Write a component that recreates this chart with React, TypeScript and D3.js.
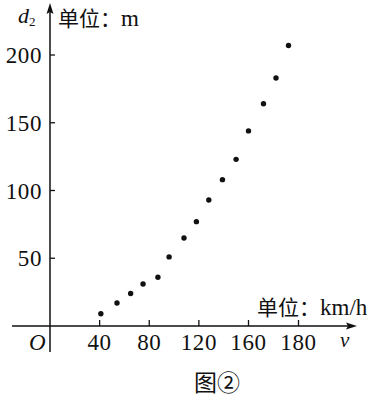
import React from "react";
import * as d3 from "d3";

const speeds = [41, 54, 65, 75, 87, 96, 108, 118, 128, 139, 150, 160, 166, 171, 176];
const distances = [9, 17, 24, 31, 36, 51, 65, 77, 93, 108, 123, 144, 164, 183, 207];
const xTicks = [40, 80, 120, 160, 180];
const yTicks = [50, 100, 150, 200];

const W = 378;
const H = 400;

export default function App() {
  // the original figure stretches the last interval (160 -> 180)
  const x = d3.scaleLinear().domain([0, 160, 180]).range([50, 248.5, 298.5]);
  const y = d3.scaleLinear().domain([0, 200]).range([326, 55]);
  const x0 = x(0);
  const y0 = y(0);
  const serif = "'Liberation Serif', 'Times New Roman', serif";
  const cjk = "'Noto Sans CJK SC', sans-serif";
  return (
    <svg
      width={W}
      height={H}
      viewBox={`0 0 ${W} ${H}`}
      style={{ position: "absolute", left: 0, top: 0, background: "#fff" }}
    >
      <rect width={W} height={H} fill="#fff" />
      {/* axes */}
      <line x1={12} x2={352} y1={y0} y2={y0} stroke="#111" strokeWidth={1.5} />
      <path d={`M357,${y0} L346,${y0 - 3.5} L348,${y0} L346,${y0 + 3.5} Z`} fill="#111" />
      <line x1={x0} x2={x0} y1={352} y2={9} stroke="#111" strokeWidth={1.5} />
      <path d={`M${x0},3 L${x0 - 3.5},14 L${x0},12 L${x0 + 3.5},14 Z`} fill="#111" />

      {/* y ticks */}
      {yTicks.map((t) => (
        <g key={"y" + t}>
          <line x1={x0} x2={x0 + 5} y1={y(t)} y2={y(t)} stroke="#111" strokeWidth={1.3} />
          <text
            x={42}
            y={y(t) + 8}
            textAnchor="end"
            fontFamily={serif}
            fontSize={23}
            letterSpacing={0.6}
            fill="#111"
          >
            {t}
          </text>
        </g>
      ))}
      {/* x ticks */}
      {xTicks.map((t) => (
        <g key={"x" + t}>
          <line x1={x(t)} x2={x(t)} y1={y0} y2={y0 - 6} stroke="#111" strokeWidth={1.3} />
          <text
            x={x(t)}
            y={350}
            textAnchor="middle"
            fontFamily={serif}
            fontSize={23}
            letterSpacing={0.6}
            fill="#111"
          >
            {t}
          </text>
        </g>
      ))}

      {/* points */}
      {speeds.map((v, i) => (
        <circle key={i} cx={x(v)} cy={y(distances[i])} r={2.7} fill="#111" />
      ))}

      {/* labels */}
      <text x={29} y={350} fontFamily={serif} fontStyle="italic" fontSize={23} fill="#111">
        O
      </text>
      <text x={340} y={347} fontFamily={serif} fontStyle="italic" fontSize={21} fill="#111">
        v
      </text>
      <text x={18} y={23} fontFamily={serif} fontStyle="italic" fontSize={22} fill="#111">
        d
        <tspan fontStyle="normal" fontSize={13} dy={3}>
          2
        </tspan>
      </text>
      <text x={58} y={26} fontFamily={cjk} fontSize={21} fill="#111">
        单位
        <tspan>：</tspan>
        <tspan fontFamily={serif} fontSize={23}>m</tspan>
      </text>
      <text x={257} y={315} fontFamily={cjk} fontSize={21} fill="#111">
        单位
        <tspan>：</tspan>
        <tspan fontFamily={serif} fontSize={23}>km/h</tspan>
      </text>
      <text x={194} y={391} fontFamily={cjk} fontSize={23} fill="#111">
        图②
      </text>
    </svg>
  );
}
